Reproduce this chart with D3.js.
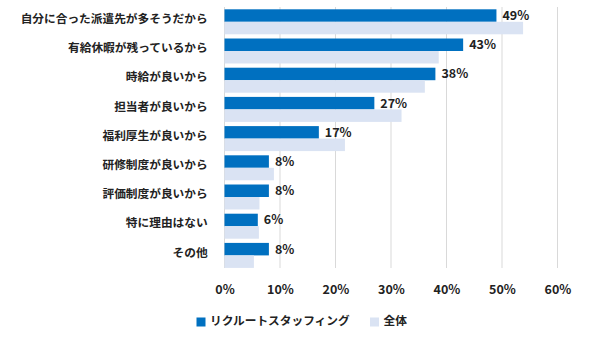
<!DOCTYPE html>
<html><head><meta charset="utf-8">
<script src="https://cdn.jsdelivr.net/npm/d3@7"></script>
<style>
html,body{margin:0;padding:0;background:#fff;}
text{font-family:"Noto Sans CJK JP","Noto Sans",sans-serif;fill:#222;}
</style></head>
<body><svg id="chart" width="590" height="339"></svg>
<script>
const categories = ["自分に合った派遣先が多そうだから","有給休暇が残っているから","時給が良いから","担当者が良いから","福利厚生が良いから","研修制度が良いから","評価制度が良いから","特に理由はない","その他"];
const seriesNames = ["リクルートスタッフィング","全体"];
const recruitValues = [49,43,38,27,17,8,8,6,8];
const totalValues = [53.8,38.6,36.1,31.9,21.7,8.9,6.3,6.2,5.3];
const xTicks = [0,10,20,30,40,50,60];
const colors = ["#0070c0","#dae3f3"];

const svg = d3.select("#chart");
const x = d3.scaleLinear().domain([0,60]).range([224.5,557.5]);
const y = d3.scaleBand().domain(categories).range([7.2,270]).paddingInner(0.144).paddingOuter(0.072);
const ySub = d3.scaleBand().domain(seriesNames).range([0,y.bandwidth()]);

// gridlines
svg.append("g").selectAll("line").data(xTicks).join("line")
  .attr("x1",d=>x(d)).attr("x2",d=>x(d)).attr("y1",7).attr("y2",268)
  .attr("stroke","#d9d9d9").attr("stroke-width",1);

const series = [recruitValues,totalValues];
series.forEach((vals,si)=>{
  svg.append("g").selectAll("rect").data(categories).join("rect")
    .attr("x",x(0)).attr("y",(c)=>y(c)+ySub(seriesNames[si]))
    .attr("width",(c,i)=>x(vals[i])-x(0)).attr("height",ySub.bandwidth())
    .attr("fill",colors[si]);
});

// value labels
svg.append("g").selectAll("text").data(categories).join("text")
  .attr("x",(c,i)=>x(recruitValues[i])+6)
  .attr("y",c=>y(c)+ySub(seriesNames[0])+ySub.bandwidth()/2+1)
  .attr("dominant-baseline","middle")
  .attr("font-size","12.5px").attr("font-weight","bold")
  .text((c,i)=>recruitValues[i]+"%");

// category labels
const yAxis = d3.axisLeft(y).tickSize(0).tickPadding(0);
const ga = svg.append("g").attr("transform",`translate(207.7,0)`).call(yAxis);
ga.select(".domain").remove();
ga.selectAll("text").attr("font-size","11.7px").attr("font-weight","bold")
  .attr("font-family","Noto Sans CJK JP").attr("fill","#222").attr("dy","0.1em");

// x axis
const xAxis = d3.axisBottom(x).tickValues(xTicks).tickSize(0).tickPadding(0).tickFormat(d=>d+"%");
const gx = svg.append("g").attr("transform","translate(0,285)").call(xAxis);
gx.select(".domain").remove();
gx.selectAll("text").attr("font-size","12.5px").attr("font-weight","bold")
  .attr("font-family","Noto Sans CJK JP").attr("fill","#222");

// legend
const legX = [196.5,370];
const lg = svg.append("g");
seriesNames.forEach((n,i)=>{
  lg.append("rect").attr("x",legX[i]).attr("y",317.5).attr("width",9).attr("height",9).attr("fill",colors[i]);
  lg.append("text").attr("x",legX[i]+13.5).attr("y",322).attr("dominant-baseline","middle")
    .attr("font-size","11.7px").attr("font-weight","bold").text(n);
});
</script></body></html>
